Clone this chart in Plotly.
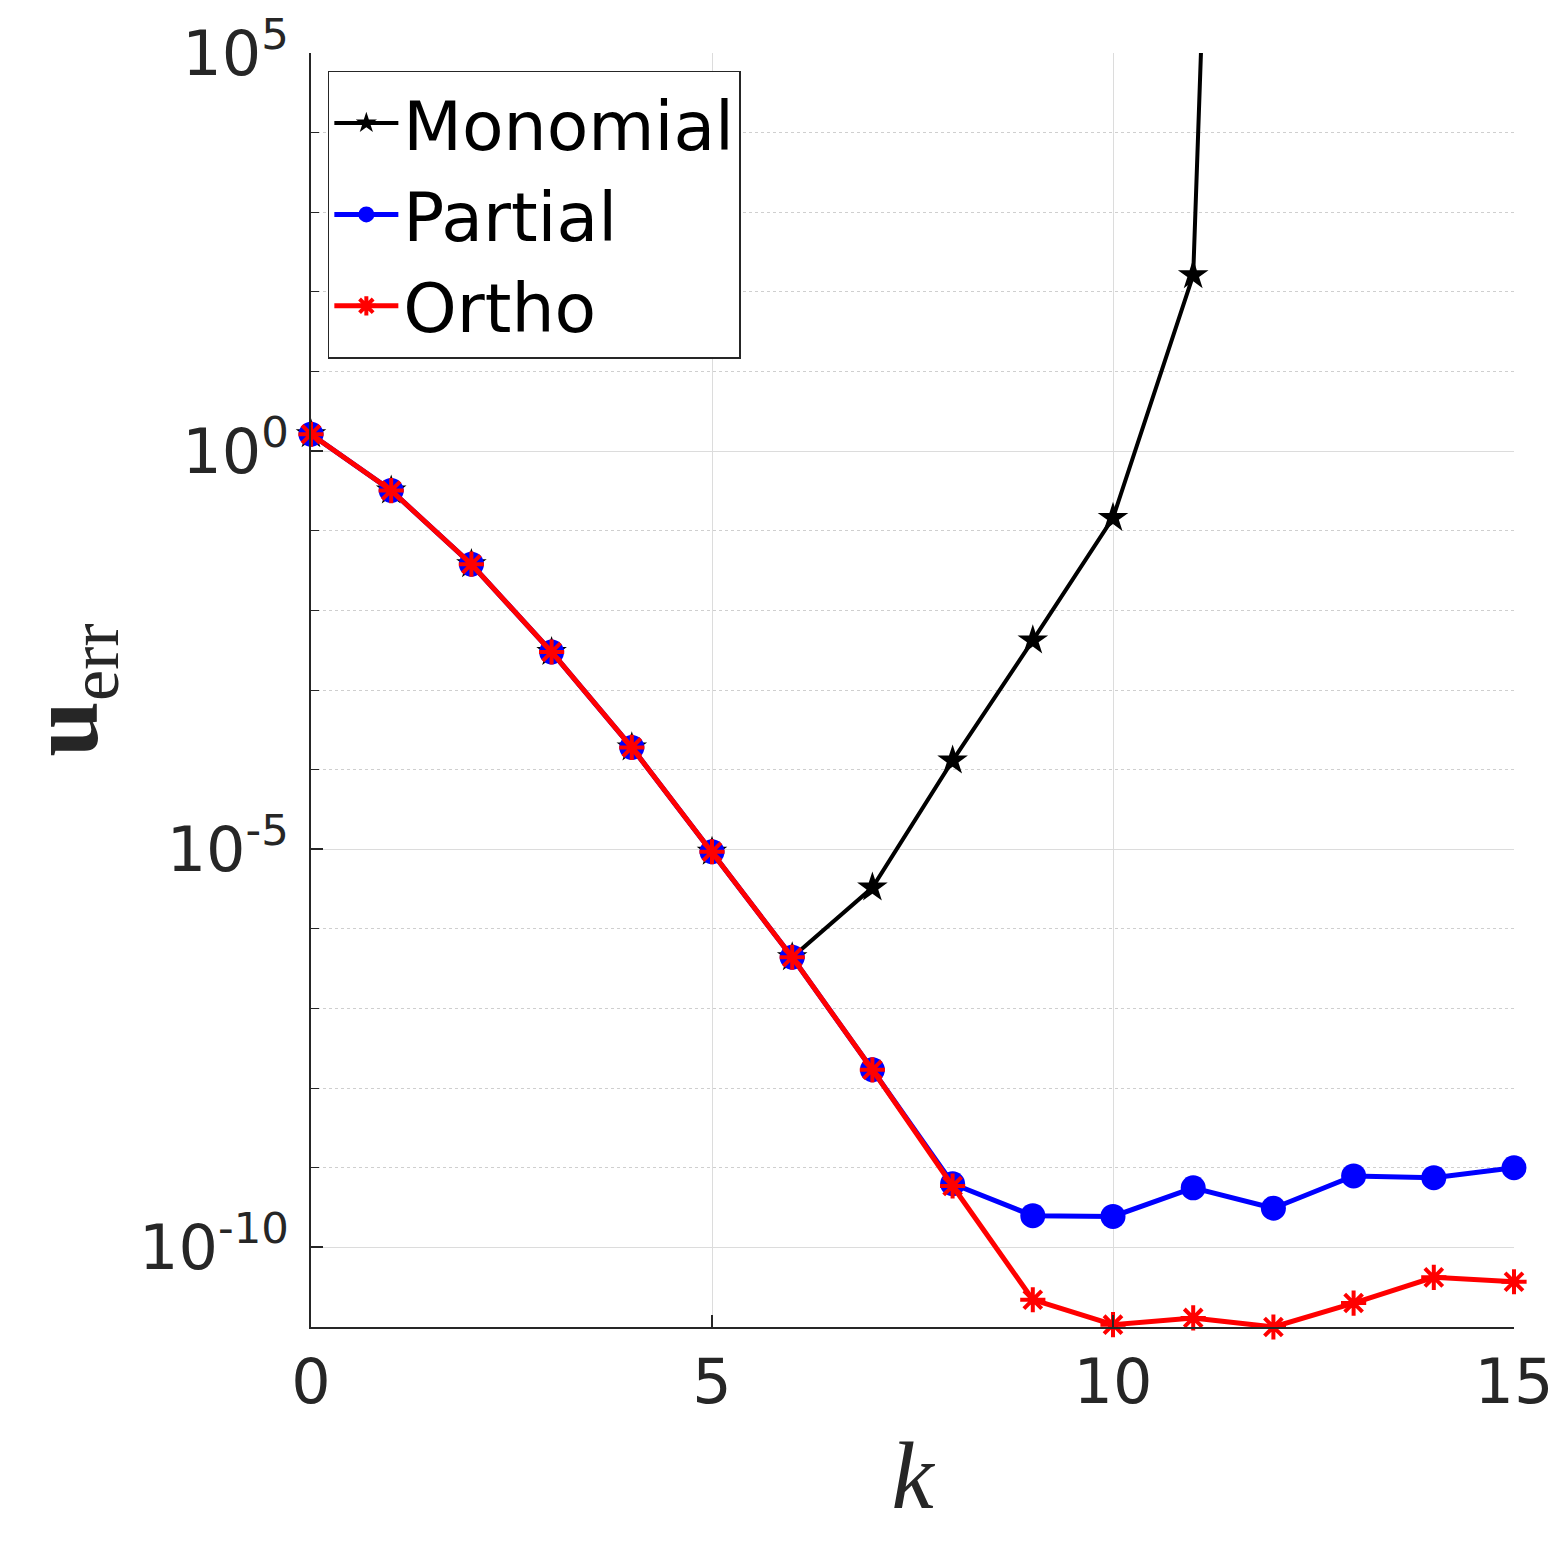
import plotly.graph_objects as go

k = list(range(16))
monomial = [1.63, 0.32, 0.038, 3.0e-3, 1.9e-4, 9.3e-6, 4.4e-7, 3.3e-6, 1.3e-4,
            4.2e-3, 0.145, 162, 3e37, 1e60, 1e80, 1e100]
partial = [1.63, 0.32, 0.038, 3.0e-3, 1.9e-4, 9.3e-6, 4.4e-7, 1.7e-8, 6.3e-10,
           2.5e-10, 2.45e-10, 5.6e-10, 3.1e-10, 7.9e-10, 7.5e-10, 1.0e-9]
ortho = [1.63, 0.32, 0.038, 3.0e-3, 1.9e-4, 9.3e-6, 4.4e-7, 1.7e-8, 5.9e-10,
         2.2e-11, 1.07e-11, 1.3e-11, 1.0e-11, 2.0e-11, 4.2e-11, 3.7e-11]

x_ticks = [0, 5, 10, 15]
y_ticks = [1e-10, 1e-5, 1e0, 1e5]
y_ticktext = ["10<sup>-10</sup>", "10<sup>-5</sup>", "10<sup>0</sup>", "10<sup>5</sup>"]
y_minor = [10.0 ** e for e in range(-11, 6)]

fig = go.Figure()
fig.add_trace(go.Scatter(
    x=k, y=monomial, name="Monomial", mode="lines+markers",
    line=dict(color="black", width=4),
    marker=dict(symbol="star", size=23, color="black"),
    cliponaxis=False))
fig.add_trace(go.Scatter(
    x=k, y=partial, name="Partial", mode="lines+markers",
    line=dict(color="#0000ff", width=5),
    marker=dict(symbol="circle", size=25, color="#0000ff"),
    cliponaxis=False))
fig.add_trace(go.Scatter(
    x=k, y=ortho, name="Ortho", mode="lines+markers",
    line=dict(color="#ff0000", width=5),
    marker=dict(symbol="asterisk-open", size=21, color="#ff0000",
                line=dict(color="#ff0000", width=4)),
    cliponaxis=False))

axis_font = dict(family="DejaVu Sans", size=62, color="#262626")

fig.update_layout(
    width=1563, height=1544,
    margin=dict(l=303, r=57, t=45, b=225),
    plot_bgcolor="white", paper_bgcolor="white",
    showlegend=True,
    legend=dict(
        x=0.014, y=0.986, xanchor="left", yanchor="top",
        font=dict(family="DejaVu Sans", size=68, color="black"),
        bordercolor="#262626", borderwidth=1.5, bgcolor="white",
        itemwidth=64, tracegroupgap=0,
    ),
    xaxis=dict(
        range=[0, 15], tickvals=x_ticks, ticktext=[str(v) for v in x_ticks],
        automargin=False,
        ticks="inside", ticklen=12, tickwidth=1.5, tickcolor="#262626",
        showline=True, linecolor="#262626", linewidth=1.5,
        showgrid=True, gridcolor="#dcdcdc", gridwidth=1.2,
        zeroline=False, tickfont=axis_font, ticklabelstandoff=0,
        title=dict(text="<i>k</i>", font=dict(family="Liberation Serif", size=95, color="#262626"),
                   standoff=24),
    ),
    yaxis=dict(
        type="log", range=[-11, 5], tickvals=y_ticks, ticktext=y_ticktext,
        automargin=False,
        ticks="inside", ticklen=12, tickwidth=1.5, tickcolor="#262626",
        showline=True, linecolor="#262626", linewidth=1.5,
        showgrid=True, gridcolor="#dcdcdc", gridwidth=1.2,
        zeroline=False, tickfont=axis_font, ticklabelstandoff=8,
        minor=dict(tickvals=y_minor, ticks="inside", ticklen=8, tickcolor="#262626",
                   tickwidth=1.2, showgrid=True, gridcolor="#cfcfcf", griddash="dot",
                   gridwidth=1.2),
        title=dict(text="<b>u</b><sub>err</sub>",
                   font=dict(family="Liberation Serif", size=100, color="#262626"),
                   standoff=40),
    ),
)

fig.write_html("out.html")
